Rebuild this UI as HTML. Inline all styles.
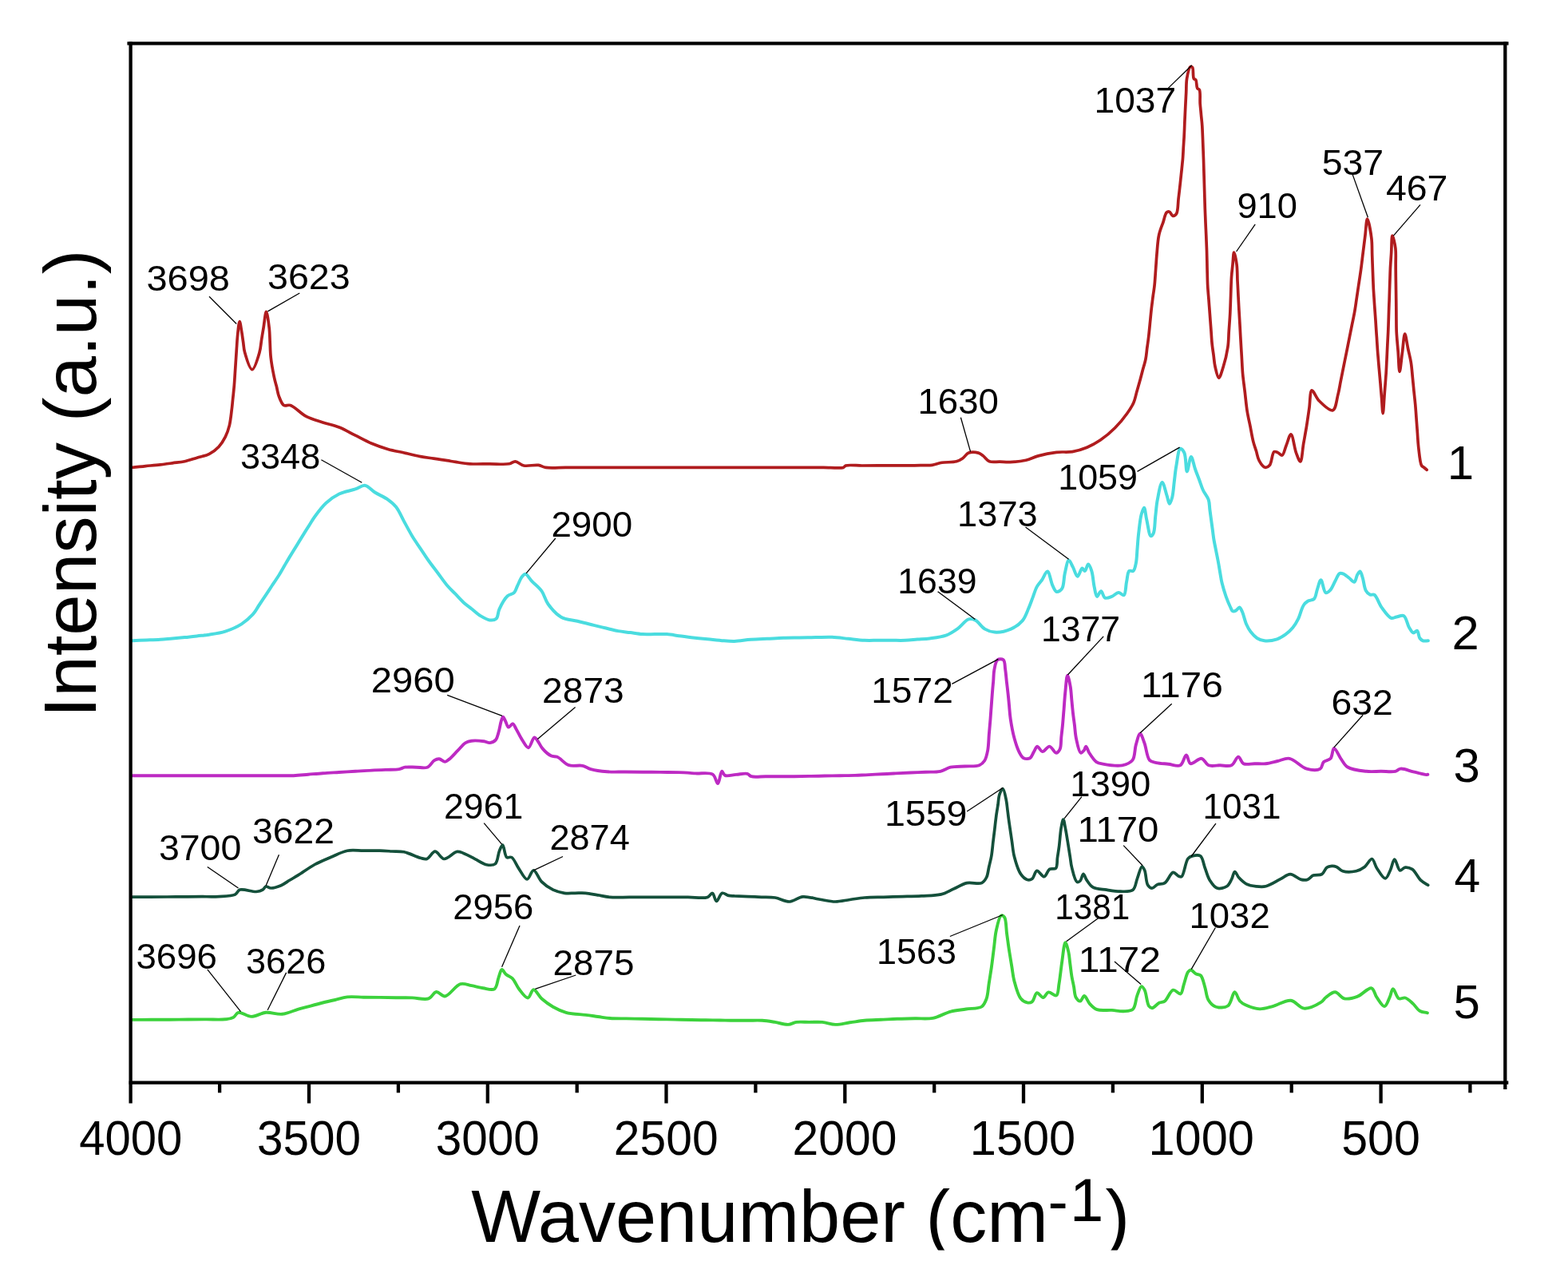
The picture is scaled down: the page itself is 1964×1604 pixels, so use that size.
<!DOCTYPE html>
<html><head><meta charset="utf-8"><title>FTIR spectra</title>
<style>html,body{margin:0;padding:0;background:#fff;}svg{display:block;}</style></head>
<body><svg width="1964" height="1604" viewBox="0 0 1964 1604">
<rect x="0" y="0" width="1964" height="1604" fill="#fff"/>
<path d="M164.1,585.5 C170.2,584.9 176.3,584.3 182.4,583.6 C188.5,583 194.9,582.5 200.7,581.8 C206,581.2 210.9,580.4 216,579.8 C221.1,579.1 226.2,578.8 231.3,577.7 C236.4,576.6 241.5,574.7 246.6,573.2 C251.6,571.6 257.2,570.9 261.8,568.6 C266.3,566.3 270.6,563 274,559.4 C277.4,555.9 280,551.6 282.2,547.2 C284.4,542.8 286,538.2 287.3,532.9 C288.8,526.8 289.5,518.9 290.3,512.6 C291,507.1 291.3,502.4 291.9,497.3 C292.4,492.2 293,487.1 293.4,482 C293.8,476.9 294.1,471.8 294.4,466.8 C294.7,461.7 295.1,456.6 295.4,451.5 C295.7,446.4 296.1,441.3 296.4,436.2 C296.8,431.1 296.9,426.2 297.5,420.9 C298.1,415.1 299.2,402.6 300.1,402.6 C300.9,402.6 301.9,410.6 302.6,414.8 C303.4,419.1 303.9,423.6 304.6,428.1 C305.3,432.5 305.2,436.5 306.6,441.3 C308.4,447.7 312.7,462.7 315.8,462.7 C318.9,462.7 323.1,447.9 325,441.3 C326.6,435.9 326.7,431.1 327.5,426 C328.3,420.9 329.1,416.2 330,410.7 C331.1,404.4 332.3,390.4 333.5,390.4 C334.7,390.4 336.4,404.1 337.2,410.7 C337.9,416.9 337.9,422.9 338.2,429 C338.5,435.2 338.5,440.9 339.2,447.4 C340,455 341.9,465.1 343.3,471.8 C344.3,476.6 345.3,480 346.4,484.1 C347.4,488.1 347.9,492.4 349.4,496.3 C350.9,500.2 352.7,505.8 355.5,507.5 C357.7,508.8 360.5,506.5 363.7,507.5 C369.2,509.2 377,518.1 384,521.7 C390.6,525.1 397.6,526.7 404.4,528.9 C411.2,531.1 418.1,532.3 424.8,535 C431.7,537.7 438.3,541.8 445.1,545.2 C451.9,548.6 458.6,552.4 465.5,555.3 C472.2,558.1 479,560.5 485.9,562.5 C492.6,564.4 499.5,565.5 506.2,567 C513,568.6 520.1,570.4 526.6,571.6 C532.4,572.7 537.7,573.3 543.3,574.2 C548.9,575 555.1,575.9 560,576.7 C563.9,577.3 566.6,577.8 570.6,578.4 C575.9,579.2 582.3,580.4 588.9,580.8 C596.4,581.3 605.2,580.8 613.3,580.8 C621.5,580.8 632,581.9 637.8,580.8 C641.1,580.2 642.7,577.7 645.4,577.8 C648.7,577.9 651.9,582.1 656.1,583 C661.3,584.1 669.4,581.7 674.4,582.4 C678,582.9 679.7,584.8 683.6,585.4 C689.8,586.4 700.2,585.4 708.4,585.4 C716.7,585.4 725,585.4 733.3,585.4 C741.6,585.4 749.9,585.4 758.1,585.4 C766.4,585.4 774.7,585.4 783,585.4 C791.3,585.4 799.6,585.4 807.8,585.4 C816.1,585.4 824.4,585.4 832.7,585.4 C841,585.4 849.2,585.4 857.5,585.4 C865.8,585.4 874.1,585.4 882.4,585.4 C890.7,585.4 898.9,585.4 907.2,585.4 C915.5,585.4 923.8,585.4 932.1,585.4 C940.3,585.4 948.6,585.4 956.9,585.4 C965.2,585.4 973.5,585.4 981.8,585.4 C990,585.4 998.3,585.4 1006.6,585.4 C1014.9,585.4 1023.2,585.4 1031.5,585.4 C1039.7,585.4 1052.1,586.8 1056.3,585.4 C1058,584.8 1057.8,583.6 1059.4,583 C1063.1,581.7 1072.8,583 1079.6,583 C1086.3,582.9 1093,582.9 1099.7,582.9 C1106.4,582.9 1113.1,582.9 1119.8,582.8 C1126.6,582.8 1133.9,582.9 1140,582.8 C1145,582.8 1149.2,582.7 1153.8,582.6 C1158.3,582.5 1163.1,583 1167.5,582.4 C1171.7,581.8 1175.2,580.1 1179.7,579.3 C1185.1,578.4 1193.3,579.1 1198,577.8 C1201.2,576.9 1203.3,575.7 1205.7,574 C1208.4,572.2 1210.2,568.3 1213.3,567.1 C1216.7,565.8 1222.2,566.2 1225.5,567.1 C1228,567.8 1229.5,569.3 1231.6,570.9 C1234.1,572.8 1236.1,576.5 1239.3,577.8 C1242.9,579.2 1247.9,578.1 1252.2,578.2 C1256.6,578.3 1260.4,578.8 1265.2,578.6 C1271.1,578.4 1279,577.7 1285.1,576.3 C1290.6,575 1294.7,572.5 1300.4,570.9 C1307.2,569 1315.9,567.2 1323.3,566.3 C1330.1,565.5 1336.7,566.6 1343.1,565.6 C1349.4,564.6 1355.6,562.6 1361.5,560.2 C1367.4,557.8 1372.8,554.9 1378.3,551.1 C1384.5,546.9 1391,541.4 1396.6,535.8 C1402.2,530.2 1407.8,523.3 1411.9,517.5 C1415.3,512.8 1418,508.5 1420,503.9 C1421.9,499.6 1422.5,495.2 1423.8,490.8 C1425,486.4 1426.3,482.1 1427.5,477.7 C1428.8,473.1 1430,468.4 1431.2,463.7 C1432.5,459 1434.1,454.4 1435,449.7 C1435.9,445.1 1436.2,440.3 1436.8,435.6 C1437.5,431 1438.1,426.6 1438.7,421.6 C1439.4,415.8 1440,409.1 1440.6,402.9 C1441.2,396.7 1441.8,390 1442.5,384.2 C1443.1,379.2 1443.7,374.8 1444.3,370.1 C1445,365.5 1445.7,361.1 1446.2,356.1 C1446.8,350.2 1447.1,343.4 1447.6,337.1 C1448.1,330.7 1448.4,324.7 1449,318 C1449.7,310.5 1450.1,301.1 1451.7,294 C1453,288.1 1455.2,283.2 1456.9,278.3 C1458.4,273.9 1459.3,267.7 1461.3,266 C1462.3,265.1 1463.7,264.8 1464.8,265.2 C1466.3,265.7 1467.5,270.1 1469.1,270.4 C1470.5,270.6 1472.4,269.5 1473.5,267.8 C1475.7,264.5 1475.3,255.3 1476.1,248.6 C1477,241.4 1478,232.4 1478.7,225.9 C1479.2,220.9 1479.6,217.2 1480.1,212.8 C1480.5,208.4 1481,204.1 1481.4,199.7 C1481.8,195.1 1482,190.4 1482.2,185.8 C1482.5,181.1 1482.8,176.8 1483.1,171.8 C1483.4,165.9 1483.7,159 1483.9,152.6 C1484.2,146.1 1484.5,139.6 1484.8,133.3 C1485.1,127.3 1485.4,121.7 1485.7,115.9 C1486,110 1485.7,103.9 1486.6,98.4 C1487.5,93.2 1489.1,84.6 1491,83.6 C1491.8,83.2 1492.9,83.6 1493.6,84.4 C1495.1,86.2 1493.9,96 1495.3,98.4 C1496,99.5 1497.2,99.1 1497.9,100.2 C1499.1,102.1 1498.5,108.7 1499.7,110.6 C1500.4,111.7 1501.7,111.2 1502.3,112.4 C1503.8,115.1 1502.8,124.3 1503.2,129.8 C1503.6,134.7 1504.1,139.1 1504.5,143.8 C1504.9,148.5 1505.5,152.7 1505.8,157.8 C1506.2,164.1 1506.4,171.8 1506.7,178.8 C1506.9,185.7 1507.3,192.8 1507.5,199.7 C1507.7,206.5 1507.9,213.3 1508.1,220.1 C1508.3,226.9 1508.5,233.6 1508.7,240.4 C1508.9,247.2 1509.1,254.3 1509.3,260.8 C1509.5,266.8 1509.8,272.4 1510,278.3 C1510.3,284.1 1510.5,289.9 1510.8,295.7 C1511,301.6 1511.3,307.1 1511.5,313.2 C1511.7,320 1511.9,327.5 1512,334.6 C1512.2,341.8 1512.3,349.2 1512.6,356.1 C1512.9,362.6 1513.5,368.6 1514,374.8 C1514.5,381 1514.9,387.3 1515.4,393.5 C1515.9,399.7 1516.3,406 1516.8,412.2 C1517.3,418.5 1517.6,425.2 1518.2,431 C1518.7,436 1519.5,440.3 1520.1,445 C1520.7,449.7 1520.9,454.4 1522,459 C1523.1,463.7 1524.9,473 1526.6,473.1 C1528.3,473.2 1530.6,464.4 1532.3,459 C1534.5,452.1 1536.7,442.5 1537.9,434.7 C1539,427.6 1538.8,421 1539.3,414.1 C1539.8,407.2 1540.3,400.6 1540.7,393.5 C1541.1,386 1541.3,377.9 1541.6,370.1 C1541.9,362.4 1542,353.8 1542.5,346.8 C1542.9,341.1 1543.5,336.5 1544,331.4 C1544.6,326.3 1544.8,316 1545.6,316 C1546.4,316 1548.4,326.2 1549.1,331.8 C1549.9,338 1549.7,344.9 1550,351.5 C1550.4,358 1550.7,364.8 1551,371.1 C1551.3,376.9 1551.6,382.3 1551.9,387.9 C1552.2,393.5 1552.6,399.2 1552.9,404.8 C1553.2,410.4 1553.5,415.5 1553.8,421.6 C1554.2,428.8 1554.7,437.2 1555.2,445 C1555.7,452.8 1555.9,460.6 1556.6,468.4 C1557.3,476.2 1558.5,484 1559.4,491.8 C1560.3,499.6 1561,507.9 1562.2,515.2 C1563.3,521.8 1564.7,527.7 1566,533.9 C1567.2,540.1 1568.3,547.1 1569.7,552.6 C1570.8,557.1 1572.2,560.7 1573.5,564.8 C1574.7,568.8 1575.2,573.4 1577.2,576.9 C1579,580.2 1582.1,584.8 1584.6,585.3 C1586.5,585.7 1588.7,584.3 1590.3,582.5 C1593,579.4 1593.3,567.2 1595.9,565.7 C1597.2,564.9 1599,566 1600.5,566.6 C1602.3,567.3 1604.4,570.5 1606,570 C1608.2,569.3 1609.2,562.2 1611,558 C1612.9,553.5 1615.1,543.8 1617,543.9 C1619.4,544.1 1621.2,561.2 1623.6,567.4 C1625.2,571.7 1627.4,578.1 1628.8,577.9 C1630.7,577.6 1631.4,563.1 1632.7,555.6 C1634,548.2 1635.4,540.8 1636.6,533.4 C1637.8,526 1638.8,518.6 1639.9,511.1 C1641,503.7 1640.7,489.5 1643.2,488.9 C1645.3,488.4 1648.4,498.1 1652.4,502 C1656.9,506.5 1665.5,515.1 1669.4,513.8 C1673.3,512.5 1674.2,500.5 1675.9,494.1 C1677.5,488.2 1678.2,482.5 1679.4,476.7 C1680.6,470.9 1681.7,465 1682.9,459.2 C1684.1,453.4 1685.2,447.6 1686.4,441.8 C1687.6,436 1688.7,430.2 1689.9,424.3 C1691.1,418.5 1692.2,412.7 1693.4,406.9 C1694.6,401 1695.9,395.2 1696.9,389.4 C1697.9,383.6 1698.6,377.8 1699.5,372 C1700.4,366.2 1701.2,360.3 1702.1,354.5 C1703,348.7 1703.9,343.2 1704.7,337.1 C1705.6,330.4 1706.4,323.1 1707.3,316.1 C1708.2,309.2 1709,302.2 1709.9,295.2 C1710.8,288.2 1711.4,274.3 1712.6,274.2 C1713.9,274.1 1716.8,290 1717.8,297.8 C1718.8,305.2 1718.4,312.3 1718.7,319.6 C1719,326.9 1719.2,334.1 1719.5,341.4 C1719.8,348.7 1720,356.1 1720.4,363.2 C1720.8,369.9 1721.3,376.3 1721.7,382.9 C1722.2,389.4 1722.6,395.9 1723.1,402.5 C1723.5,409.1 1723.9,415.6 1724.4,422.1 C1724.8,428.7 1725.2,435.3 1725.7,441.8 C1726.2,448.2 1726.8,454.5 1727.3,460.8 C1727.9,467.1 1728.4,473.4 1729,479.8 C1729.5,486.1 1730,492.4 1730.6,498.7 C1731.1,505.1 1731.6,517.7 1732.2,517.7 C1732.8,517.7 1733.5,501.1 1734.2,492.9 C1734.8,484.6 1735.6,475.6 1736.1,468 C1736.5,461.7 1736.7,456.4 1737,450.5 C1737.3,444.7 1737.5,438.9 1737.8,433.1 C1738.1,427.2 1738.4,421.6 1738.7,415.6 C1739,409.2 1739.2,402.5 1739.4,396 C1739.6,389.4 1739.8,382.9 1740.1,376.4 C1740.3,369.8 1740.5,363.3 1740.7,356.7 C1741,350.2 1741.1,343.7 1741.4,337.1 C1741.7,330.2 1742.3,323.1 1742.7,316.1 C1743.1,309.2 1743,295.3 1744,295.2 C1744.9,295.1 1747.2,305.2 1747.9,310.9 C1748.7,317.3 1748.1,324.9 1748.2,331.8 C1748.2,338.8 1748.3,345.8 1748.4,352.8 C1748.5,359.8 1748.6,366.7 1748.7,373.7 C1748.8,380.7 1748.9,387.7 1748.9,394.7 C1749,401.6 1748.9,408.3 1749.2,415.6 C1749.6,423.5 1750.5,432.2 1751.2,440.5 C1751.8,448.7 1752.2,465.3 1753.1,465.3 C1754,465.3 1755.3,449.6 1756.4,441.8 C1757.5,433.9 1758.4,418.2 1759.7,418.2 C1760.8,418.2 1762.3,430.4 1763.6,436.5 C1764.9,442.7 1766.6,448.8 1767.5,454.9 C1768.4,460.8 1768.7,466.5 1769.3,472.3 C1769.9,478.1 1770.4,484 1771,489.8 C1771.6,495.6 1772.3,501.4 1772.8,507.2 C1773.3,513 1773.7,518.8 1774.1,524.7 C1774.5,530.5 1775,536.3 1775.4,542.1 C1775.8,548 1776,553.4 1776.7,559.6 C1777.6,566.8 1778.5,579.6 1780.6,583 C1781.4,584.3 1782.3,584.2 1783.2,585 C1784.4,586 1785.9,587.3 1787.2,588.4" fill="none" stroke="#b01c1e" stroke-width="3.7" stroke-linejoin="round" stroke-linecap="round"/>
<path d="M166.1,802.2 C171.9,802 177.6,801.7 183.4,801.5 C189.2,801.3 195.1,801.2 200.7,800.8 C206,800.5 210.9,799.9 216,799.5 C221.1,799 226.2,798.6 231.3,798.1 C236.4,797.6 241.5,797 246.6,796.4 C251.6,795.8 256.4,795.5 261.8,794.7 C268.1,793.7 275.5,792.7 282.2,790.6 C289.1,788.4 296.6,785.2 302.6,781.4 C308,777.9 312.9,773.5 316.8,769.2 C320.2,765.4 322.2,761.1 325,757 C327.7,752.9 330.4,748.9 333.1,744.8 C335.8,740.7 338.5,736.6 341.2,732.5 C344,728.5 346.8,724.4 349.4,720.3 C351.9,716.3 354.2,712.2 356.5,708.1 C358.9,704 361.2,700 363.7,695.9 C366.3,691.6 369.1,687.1 371.9,682.6 C374.6,678.2 377.4,673.6 380,669.4 C382.4,665.5 384.7,661.9 387.1,658.2 C389.5,654.5 391.3,651 394.2,647 C398,641.7 403.2,634.5 408.5,629.7 C413.5,625.2 418.8,621.4 424.8,618.5 C431,615.5 439.2,614.4 445.1,612.4 C449.7,610.9 453.4,607.4 457.4,607.9 C461.6,608.5 465.2,613.7 469.6,616.5 C474.6,619.6 481.3,622.3 485.9,625.6 C489.9,628.5 493,630.9 496.1,634.8 C499.9,639.6 502.9,647 506.2,653.1 C509.6,659.3 512.9,665.7 516.4,671.5 C519.7,676.9 523.2,681.7 526.6,686.8 C530,691.8 533.2,696.9 536.8,702 C540.5,707.2 544.5,712.3 548.4,717.5 C552.3,722.7 556.1,728.4 560,733 C563.4,737 566.9,740.1 570.4,743.7 C573.8,747.3 577.2,751.2 580.7,754.4 C584,757.4 587.5,759.8 590.9,762.5 C594.3,765.3 597.4,768.4 601.1,770.7 C604.9,773 609.6,775.9 613.3,776.4 C616.2,776.8 619.5,776.6 621.5,774.8 C624,772.6 623.5,766.8 625.5,762.6 C627.9,757.4 632,749.7 635.7,746.3 C638.3,744 641.9,744.3 643.9,742.2 C645.9,740.2 646.4,737 647.9,734 C649.7,730.3 651.9,724.4 654.1,721.8 C655.4,720.3 656.6,718.7 658.1,718.8 C660.4,719 663.3,724.7 666.3,727.9 C669.9,731.7 675.1,735.5 678.5,740.2 C681.9,745 682.9,751.4 686.6,756.5 C690.8,762.3 696.6,769.2 702.9,772.7 C708.9,776.1 716.5,776.1 723.3,777.8 C730.1,779.5 737.4,781.4 743.7,782.9 C749.1,784.2 753.9,785.3 759,786.5 C764,787.7 769.1,789.2 774.2,790.1 C779.3,791 784.4,791.4 789.5,792.1 C794.6,792.8 799.7,793.8 804.8,794.1 C809.9,794.4 815,794.1 820,794.1 C825.1,794.1 830.2,793.8 835.3,794.1 C840.4,794.4 845.5,795.5 850.6,796.2 C855.7,796.8 860.4,797.6 865.9,798.2 C872.2,798.9 879.5,799.6 886.2,800.2 C893,800.9 900.5,801.9 906.6,802.3 C911.5,802.7 915.1,803 920,802.9 C926.1,802.7 933.6,801.3 940.4,800.8 C947.2,800.3 954,800.1 960.8,799.8 C967.5,799.5 974.3,799 981.1,798.8 C987.9,798.6 994.7,798.6 1001.5,798.5 C1008.3,798.4 1015,798.2 1021.8,798.1 C1028.6,798 1035.4,797.5 1042.2,797.8 C1049,798.1 1055.8,799.1 1062.6,799.8 C1069.3,800.5 1076.4,801.5 1082.9,801.8 C1088.8,802.1 1094.2,801.8 1099.9,801.8 C1105.5,801.8 1111.2,801.8 1116.8,801.8 C1122.5,801.8 1128.3,802 1133.8,801.8 C1139,801.6 1144,801 1149.1,800.6 C1154.2,800.2 1159,800.1 1164.4,799.4 C1170.7,798.6 1178.8,797.9 1184.8,795.7 C1190.1,793.8 1194.4,790.8 1199,787.6 C1203.9,784.1 1208.9,776.7 1213.3,775.4 C1216.2,774.5 1218.6,775.1 1221.4,776.4 C1225.3,778.2 1229.2,785 1233.6,787.6 C1237.5,789.9 1241.2,791.3 1245.9,791.6 C1251.8,792 1260.3,790.2 1266.2,787.6 C1271.7,785.2 1276.8,781.8 1280.5,777.4 C1284.3,773 1286.3,766.3 1288.6,761.1 C1290.6,756.5 1292,752.3 1293.7,747.9 C1295.4,743.4 1296.7,738.4 1298.8,734.6 C1300.6,731.4 1302.8,729.4 1304.9,726.5 C1307.2,723.2 1309.9,715.3 1312,715.5 C1314.5,715.8 1316.2,728.8 1318.5,733.4 C1320.1,736.6 1321.5,740.6 1323.6,741 C1325.5,741.4 1328.7,739.2 1330.3,736.8 C1332.8,733.1 1332.3,724.3 1333.7,718.3 C1335.1,712.5 1336.7,701.8 1338.7,701.5 C1340.2,701.3 1342.1,706.8 1343.8,709.9 C1345.8,713.5 1347.6,721.6 1349.6,721.7 C1351.5,721.8 1353.6,711.9 1355.5,711.6 C1356.7,711.4 1357.8,715.1 1358.9,714.9 C1360.4,714.6 1361.7,706.5 1363.1,706.5 C1364.5,706.5 1366.2,711.4 1367.3,714.9 C1369,720.1 1369.4,729.3 1370.7,735.1 C1371.7,739.6 1372.4,746.6 1374,746.9 C1375.3,747.2 1377.5,740.1 1379.1,740.2 C1380.9,740.3 1381.7,747.6 1384.1,748.6 C1386.3,749.6 1389.9,748 1392.6,746.9 C1395.5,745.8 1398.3,742 1401,741.9 C1403.3,741.8 1406.1,746 1407.7,745.2 C1410.2,744 1409.9,733.7 1411.1,728.4 C1412.2,723.6 1412.2,716.6 1414.4,714.9 C1415.7,713.9 1418.2,715.9 1419.5,714.9 C1421.4,713.5 1422.1,708.7 1422.9,704.8 C1424,699.6 1424,692.5 1424.6,686.3 C1425.1,680.1 1425.4,674.3 1426.2,667.8 C1427.1,660.4 1428,650 1429.6,644.2 C1430.6,640.6 1432,635.7 1433,635.8 C1434.3,635.9 1435,645.6 1436.3,651 C1437.8,657.3 1439.3,670.6 1441.4,671.2 C1442.4,671.5 1443.8,669.6 1444.7,667.8 C1446.6,663.9 1446.4,653.8 1447.2,646.8 C1448.1,639.7 1448.4,632.7 1449.8,625.7 C1451.2,618.4 1453.6,604 1455.7,603.9 C1457.6,603.8 1459.9,615.8 1461.6,620.7 C1462.9,624.5 1463.7,630.8 1464.9,630.8 C1466,630.8 1467.4,625.8 1468.3,622.4 C1469.6,617.3 1470,609.5 1470.8,603 C1471.6,596.6 1472.1,590.3 1473.3,583.7 C1474.6,576.6 1475.9,562.5 1478.4,561.8 C1479.8,561.4 1482.1,564.4 1483.4,567 C1485.7,571.8 1485.3,590.3 1486.8,590.4 C1488.2,590.5 1490.1,571.9 1491.9,571.9 C1493.5,571.9 1495.2,582.1 1496.9,587 C1498.5,591.6 1500.3,596 1502,600.5 C1503.7,605 1505,609.7 1507,614 C1508.9,618.1 1512.3,621.6 1513.7,625.7 C1515.1,629.7 1514.8,634.1 1515.4,638.4 C1516,642.6 1516.5,646.8 1517.1,651 C1517.7,655.2 1518.2,659.4 1518.8,663.6 C1519.4,667.8 1519.8,672 1520.5,676.2 C1521.2,680.4 1522.2,684.6 1523,688.9 C1523.8,693.1 1524.7,697.2 1525.5,701.5 C1526.4,706.1 1527.2,711 1528,715.8 C1528.9,720.6 1529.4,725.2 1530.6,730.1 C1531.9,735.5 1533.8,741.7 1535.6,746.9 C1537.3,751.6 1539.4,756.7 1541,760 C1542.1,762.2 1542.7,764.6 1544,765.2 C1545.1,765.7 1546.6,765.2 1547.9,764.6 C1549.5,763.9 1551.3,760.4 1552.6,760.6 C1553.9,760.8 1554.8,763.6 1555.9,765.9 C1557.7,769.7 1559.2,777.3 1561.2,781.8 C1562.8,785.4 1564.3,788.3 1566.5,791.1 C1568.7,794 1571.4,797.1 1574.4,799 C1577.2,800.8 1580.1,801.9 1583.7,802.3 C1588.2,802.8 1595,801.8 1599.6,800.3 C1603.6,799 1606.9,796.8 1610.2,794.4 C1613.5,792 1616.8,789 1619.4,785.8 C1622,782.6 1624,779.3 1626,775.2 C1628.5,770.3 1630.1,761.9 1632.7,758 C1634.3,755.5 1635.9,754 1638,752.7 C1640.2,751.3 1644,751.9 1645.9,750 C1648.3,747.6 1648.5,742.1 1649.9,738.1 C1651.3,734.1 1652.9,726.2 1654.5,726.2 C1656.4,726.2 1657.9,741.1 1660.5,742.1 C1662,742.7 1664.2,741 1665.8,739.4 C1668.3,737 1670.3,731.2 1672.4,727.5 C1674.3,724.2 1675.7,719.4 1677.7,718.2 C1678.9,717.5 1680.1,717.8 1681.6,718.2 C1683.9,718.9 1687.1,721.7 1689.6,723.5 C1691.9,725.2 1694.5,729.2 1696.2,728.8 C1698.1,728.3 1698.8,722 1700.2,719.6 C1701.2,717.9 1702.5,715.5 1703.5,715.6 C1704.8,715.8 1705.8,720.4 1706.8,723.5 C1708.2,727.8 1708.7,735.7 1710.8,739.4 C1712.2,741.9 1714.2,743.9 1716.1,744.7 C1717.7,745.4 1719.7,743.7 1721.4,744.7 C1724.6,746.6 1727,755.7 1730.6,760.6 C1734.1,765.4 1738.8,772.5 1742.5,773.8 C1744.8,774.6 1746.8,772.9 1749.2,772.5 C1752,772 1755.9,769.8 1758.4,771.2 C1761.6,773 1762.7,782 1765,785.8 C1766.7,788.6 1768.4,792 1770.3,792.4 C1771.8,792.7 1773.8,789.2 1775,789.7 C1776.7,790.3 1776.8,796.8 1778.3,799 C1779.4,800.6 1780.7,801.7 1782.3,802.3 C1784.1,803 1786.7,802.3 1788.9,802.3" fill="none" stroke="#4adcdf" stroke-width="4.0" stroke-linejoin="round" stroke-linecap="round"/>
<path d="M166.1,971.2 C173.6,971.2 181,971.2 188.5,971.2 C196,971.2 203.5,971.2 210.9,971.2 C218.4,971.2 225.9,971.2 233.3,971.2 C240.8,971.2 248.3,971.2 255.7,971.2 C263.2,971.2 270.7,971.2 278.2,971.2 C285.6,971.2 293.1,971.2 300.6,971.2 C308,971.2 315.5,971.2 323,971.2 C330.4,971.2 337.9,971.2 345.4,971.2 C352.9,971.2 360.7,971.5 367.8,971.2 C374.2,970.9 380,970.2 386.1,969.7 C392.2,969.2 398.1,968.6 404.4,968.2 C411,967.7 418,967.4 424.8,967 C431.6,966.6 438.3,966.2 445.1,965.8 C451.9,965.4 459,964.9 465.5,964.6 C471.5,964.3 477,964.1 482.8,963.9 C488.5,963.6 495.5,963.9 500,963.1 C503,962.6 504.4,961.2 507.3,960.7 C511.2,960.1 516.7,960.7 521.4,960.7 C526,960.7 531.5,962.3 535.4,960.7 C539,959.2 541.2,953.8 544,952.1 C546,950.9 548,950.1 550.1,950.3 C552.5,950.5 555.2,954 557.4,953.9 C559.2,953.8 560.4,952.4 562.3,950.9 C565.4,948.5 569.7,943.5 573.3,939.9 C576.7,936.5 579.8,932.1 583.1,930.1 C585.5,928.6 587.5,928.1 590.4,927.7 C594.6,927.1 602,927.7 606.3,928.3 C609.2,928.7 611.2,930.4 613.6,930.1 C616.1,929.8 619.2,928.4 621,926.4 C623,924.1 623.5,920.2 624.6,916.7 C625.8,912.6 626.6,906.7 627.7,903.2 C628.5,900.9 629.2,897.7 630.1,897.7 C631,897.7 632.1,901.2 633.2,903.2 C634.4,905.5 635.3,910.2 636.9,910.6 C638.4,910.9 640.8,906 642.4,906.3 C644.1,906.6 645,910.4 646.6,913 C648.8,916.7 651.3,922.4 654,926.4 C656.4,930 659.4,936.4 661.9,936.2 C664.6,936 667,923.7 669.3,923.4 C670.8,923.2 672.1,925.9 673.5,927.7 C675.5,930.2 677,934.4 679.6,937.4 C682.5,940.8 687.1,945 690.6,946.6 C693.1,947.8 695.3,946.7 698,947.8 C702.2,949.5 707.2,956.4 712.6,958.2 C717.8,960 724.8,957.7 729.7,958.8 C733.7,959.7 735.9,961.9 740,963.1 C745.6,964.7 753.4,965.7 760.4,966.3 C767.6,966.9 775.2,966.4 782.7,966.5 C790.1,966.6 797.5,966.6 805,966.7 C812.4,966.8 819.8,966.8 827.2,966.9 C834.6,967 842.1,966.9 849.5,967.1 C856.8,967.3 863.9,967.9 871.1,968.4 C878.3,968.8 888,966.7 892.7,969.6 C896.4,971.9 897.3,981.3 899.1,981.1 C901.1,980.9 902.3,966.1 904.2,965.8 C905.4,965.6 906,970 908,970.9 C911,972.3 917.3,970.2 922,969.9 C926.7,969.6 932.6,968 936,968.9 C938.2,969.5 938.7,971.5 941.1,972.2 C945.1,973.4 953,972.2 958.9,972.2 C964.9,972.2 970.8,972.2 976.8,972.2 C982.7,972.2 988.6,972.3 994.6,972.2 C1000.9,972.1 1007.3,972 1013.7,971.9 C1020.1,971.8 1026.4,971.7 1032.8,971.5 C1039.2,971.4 1045.5,971.3 1051.9,971.2 C1058.3,971.1 1064.8,971.1 1071,970.9 C1076.8,970.7 1082.3,970.3 1088,970.1 C1093.6,969.8 1099.3,969.5 1104.9,969.2 C1110.6,969 1116.1,968.7 1121.9,968.4 C1128,968.1 1134.3,967.8 1140.6,967.5 C1146.8,967.2 1153,967 1159.2,966.7 C1165.5,966.4 1172.4,967 1177.9,965.8 C1182.6,964.8 1185.9,961.8 1190.6,960.7 C1196,959.5 1202.6,959.9 1208.6,959.5 C1214.6,959 1222.3,960 1226.6,958.2 C1229.6,957 1231.5,955.1 1233.2,952.5 C1235.3,949.3 1236.3,944.3 1237.2,939.5 C1238.3,933.7 1238.3,926.4 1238.8,919.9 C1239.4,913.4 1240,906.5 1240.5,900.3 C1240.9,894.6 1241.3,889.5 1241.7,884 C1242.1,878.6 1242.5,873.1 1242.9,867.8 C1243.3,862.8 1243.7,858 1244.2,853.1 C1244.6,848.2 1244.5,843 1245.4,838.4 C1246.3,834.1 1247,828 1249.4,826.2 C1251.2,824.9 1255.1,824.8 1256.8,826.2 C1259,828 1258.5,834.1 1259.2,838.4 C1259.9,843.1 1260.3,848.2 1260.8,853.1 C1261.4,858 1262,862.8 1262.5,867.8 C1263.1,873.1 1263.6,878.6 1264.1,884 C1264.6,889.5 1264.8,894.4 1265.7,900.3 C1266.8,907.7 1268.5,917.3 1270.6,924.8 C1272.4,931.3 1274.7,938.3 1277.1,942.7 C1278.6,945.6 1279.8,948.1 1282,949.2 C1284.2,950.3 1288.1,950.4 1290.2,949.2 C1292.5,947.9 1293.5,943.6 1295.1,941.1 C1296.5,938.8 1297.5,934.8 1299.1,934.6 C1300.9,934.4 1303.3,940.9 1305.7,941.1 C1308.4,941.3 1311.8,934.4 1314.6,934.6 C1317.5,934.8 1320.4,942.7 1322.8,942.7 C1324.6,942.7 1326.6,940.1 1327.7,937.8 C1329.3,934.4 1328.8,928 1329.3,923.1 C1329.8,918.3 1330.4,913.8 1330.9,908.5 C1331.5,902.3 1332,894.9 1332.6,888.1 C1333.1,881.4 1333.5,874.7 1334.2,867.8 C1335,860.6 1335.8,845.9 1337.1,845.8 C1338.1,845.7 1339.8,854.8 1340.7,859.6 C1341.6,864.8 1341.8,870.5 1342.3,875.9 C1342.8,881.3 1343.3,886.8 1343.9,892.2 C1344.5,897.6 1345.3,903.1 1346,908.5 C1346.6,913.9 1346.8,919.3 1348,924.8 C1349.3,930.7 1351.3,942 1353.7,942.7 C1354.9,943.1 1356.7,940.8 1357.8,939.5 C1358.9,938.1 1359.3,934.6 1360.2,934.6 C1361.4,934.6 1362.5,939.9 1364.3,942.7 C1366.6,946.3 1370,951.8 1373.3,954.1 C1375.8,955.8 1377.9,956 1381.4,956.6 C1387.3,957.7 1399,959.6 1405.7,958.3 C1410.8,957.3 1415.6,955.6 1418.5,951.9 C1421.9,947.6 1421,938.5 1422.8,932.7 C1424.3,927.6 1426.2,918.9 1428.1,918.8 C1429.8,918.7 1431.8,925.9 1433.5,930.5 C1435.8,936.5 1436.4,948.1 1439.9,951.9 C1442.2,954.3 1445.1,954.3 1448.4,955.1 C1452.6,956.1 1458.4,956.2 1463.4,956.7 C1468.4,957.2 1474.6,960.2 1478.4,958.3 C1482.1,956.4 1483.7,945.4 1485.9,945.5 C1487.9,945.6 1488.3,955.2 1491.2,956.2 C1494.4,957.3 1501.2,949.1 1505.1,949.8 C1508.6,950.4 1510.1,956.8 1513.7,958.3 C1517.6,959.9 1523.3,958.3 1528.1,958.3 C1532.9,958.3 1538.6,960.1 1542.5,958.3 C1546.3,956.5 1548.5,947.6 1551.1,947.6 C1553.4,947.6 1554.5,954.7 1557.5,956.2 C1561,957.9 1566.8,956.2 1571.4,956.2 C1576,956.2 1580.6,956.7 1585.3,956.2 C1590.2,955.7 1595.3,954.1 1600.2,953 C1605.2,951.9 1610,948.9 1615.2,949.8 C1621.9,950.9 1629.6,960.7 1636.6,962.6 C1642.4,964.2 1650.2,964.8 1653.7,962.6 C1656.4,961 1655.8,956.1 1658,954 C1660.1,951.9 1664.5,952.2 1666.6,949.8 C1669.1,946.9 1668.9,937.2 1670.9,936.9 C1673.1,936.6 1676.5,945.8 1679.4,949.8 C1682.2,953.6 1683.8,957.9 1688,960.5 C1693.5,964 1704.1,965 1711.5,965.8 C1717.9,966.5 1723.6,965.8 1729.7,965.8 C1735.7,965.8 1743.4,966.8 1747.8,965.8 C1750.6,965.1 1751.6,962.9 1754.3,962.6 C1758.4,962.1 1765,965.1 1770.3,966.4 C1775.6,967.6 1783.5,970 1786.3,970.1 C1787.3,970.1 1787.7,969.9 1788.4,969.8" fill="none" stroke="#bd2ac3" stroke-width="3.9" stroke-linejoin="round" stroke-linecap="round"/>
<path d="M166.1,1123.2 C173.3,1123.2 180.5,1123.1 187.7,1123.1 C194.9,1123 202.1,1123 209.3,1123 C216.5,1122.9 223.7,1122.9 230.9,1122.8 C238.1,1122.8 245.3,1122.8 252.5,1122.7 C259.7,1122.7 267,1123 274.1,1122.6 C281,1122.2 289.8,1122.4 294.4,1120.2 C297.4,1118.8 297.5,1115.1 300.5,1114.1 C305.1,1112.5 315.7,1116.9 320.9,1116.5 C324.2,1116.2 326.9,1115.4 329,1114.1 C330.8,1113.1 331.5,1110.4 333.1,1110 C334.8,1109.6 336.8,1111.9 339.2,1112 C342.6,1112.1 347.5,1110.6 351.4,1109 C355.3,1107.4 358.9,1104.6 362.6,1102.3 C366.3,1100.1 369.5,1098.3 373.8,1095.7 C379.6,1092.1 387.3,1086.3 394.2,1082.5 C400.9,1078.9 407.8,1076.2 414.6,1073.3 C421.4,1070.4 428.1,1066.5 435,1065.2 C441.7,1063.9 448.6,1065.2 455.4,1065.2 C462.1,1065.2 469.4,1065 475.7,1065.2 C481.2,1065.3 485.9,1065.7 490.9,1066 C496,1066.3 500.8,1065.7 506.2,1066.8 C512.6,1068.1 521.3,1073 526.6,1074.3 C529.9,1075.1 532,1076.2 534.7,1075.4 C538.2,1074.3 541.4,1066.3 544.9,1066.2 C548.6,1066.1 552,1075.1 556.3,1075.5 C561.1,1075.9 568,1067 572.6,1066.4 C575.7,1066 577.7,1067.3 580.7,1068.4 C584.9,1069.9 590.2,1073.2 595,1075.6 C599.7,1077.9 604.6,1081.8 609.2,1082.7 C613.1,1083.4 617.7,1083.8 620.4,1081.6 C623.7,1078.9 623.6,1069.6 625.5,1065.4 C626.8,1062.4 628.3,1058.1 629.6,1058.2 C631.4,1058.4 632,1071.6 634.7,1073.5 C636.4,1074.7 638.8,1072.4 640.8,1073.5 C644.1,1075.3 646.7,1083.2 650,1087.8 C653.2,1092.4 657,1101.1 660.2,1101 C663.1,1101 665.5,1089.8 668.3,1089.8 C671.5,1089.8 674.4,1100 678.5,1104.1 C682.6,1108.2 687.7,1111.8 692.7,1114.2 C697.3,1116.4 702.3,1117.6 707,1118.3 C711.5,1118.9 715.8,1118.3 720.2,1118.3 C724.7,1118.3 728.9,1117.9 733.5,1118.3 C738.4,1118.7 743.7,1120 748.8,1120.8 C753.8,1121.7 758.3,1122.9 764,1123.4 C771.2,1124 780.3,1123.4 788.4,1123.4 C796.6,1123.4 804.7,1123.4 812.9,1123.4 C821,1123.4 829.2,1123.4 837.3,1123.4 C845.5,1123.4 853.6,1123.4 861.8,1123.4 C869.9,1123.4 881,1125.3 886.2,1123.4 C889.2,1122.3 890.5,1117.9 892.3,1118.3 C894.4,1118.7 895.4,1128.3 897.4,1128.5 C899.5,1128.7 901.7,1119.2 904.6,1118.3 C907,1117.6 910,1120.8 912.7,1121.4 C915.2,1121.9 917.1,1121.7 920,1121.9 C924.5,1122.1 931.3,1122.4 937,1122.6 C942.6,1122.8 948.3,1123.1 953.9,1123.3 C959.6,1123.5 965.2,1123.1 970.9,1124 C976.9,1124.9 983.3,1129.3 989.2,1129 C994.8,1128.7 999.7,1123.5 1005.5,1122.9 C1011.8,1122.2 1019.1,1125 1025.9,1126 C1032.7,1127 1039.7,1129 1046.3,1129 C1052.6,1129 1058.5,1127.3 1064.6,1126.5 C1070.7,1125.7 1076.4,1124.5 1082.9,1124 C1090.3,1123.4 1098.7,1123.5 1106.7,1123.3 C1114.6,1123.1 1122.5,1122.8 1130.4,1122.6 C1138.4,1122.4 1146.2,1122.3 1154.2,1121.9 C1162.3,1121.4 1171.5,1121.7 1178.7,1119.9 C1184.8,1118.4 1189.5,1115.1 1195,1112.8 C1200.4,1110.4 1205.5,1106.8 1211.2,1105.6 C1217,1104.4 1225.4,1107.5 1229.6,1105.6 C1232.6,1104.2 1234.2,1101.5 1235.7,1098.5 C1237.5,1094.9 1237.7,1089.7 1238.8,1085.2 C1239.8,1080.8 1241,1076.7 1241.8,1072 C1242.7,1066.7 1243.2,1060.7 1243.8,1055 C1244.5,1049.4 1245.2,1043.7 1245.9,1038.1 C1246.5,1032.4 1247.2,1026.4 1247.9,1021.1 C1248.5,1016.4 1249.3,1012.3 1250,1007.9 C1250.6,1003.4 1250.7,998.2 1252,994.6 C1253,991.8 1254.9,987.4 1256.1,987.5 C1257.7,987.7 1259.1,996.1 1260.1,1000.7 C1261.2,1005.6 1261.5,1010.9 1262.2,1016 C1262.8,1021.1 1263.4,1025.8 1264.2,1031.3 C1265.1,1037.6 1266.2,1044.9 1267.2,1051.7 C1268.3,1058.4 1268.6,1065.1 1270.3,1072 C1272.2,1079.4 1275,1089.3 1278.5,1094.4 C1280.9,1097.8 1283.9,1100.7 1286.6,1101.5 C1288.6,1102.1 1290.9,1101.7 1292.7,1100.5 C1295.2,1098.8 1296.3,1090.7 1298.8,1090.3 C1301.3,1089.9 1305.3,1098.1 1307.9,1097.7 C1310.5,1097.4 1311.9,1090.1 1314.6,1088.4 C1316.9,1087 1320.8,1088.8 1322.5,1087.1 C1324.7,1084.9 1323.8,1078.3 1324.5,1073.8 C1325.2,1069.4 1325.8,1065.7 1326.5,1060.6 C1327.4,1053.8 1328,1043.1 1329.1,1036.8 C1329.9,1032.5 1330.9,1026.2 1331.8,1026.2 C1332.7,1026.2 1333.5,1032.5 1334.4,1036.8 C1335.7,1043.1 1337.3,1053.9 1338.4,1060.6 C1339.2,1065.5 1339.7,1069 1340.4,1073.2 C1341.1,1077.4 1341.2,1081.3 1342.4,1085.8 C1343.8,1091.4 1346.3,1103 1349,1104.3 C1350.2,1104.9 1351.9,1104 1353,1103 C1354.7,1101.5 1355.5,1094.5 1356.9,1094.4 C1358.2,1094.3 1359.2,1099.1 1360.9,1101.6 C1363,1104.6 1365.2,1108.8 1368.8,1110.9 C1373.1,1113.4 1380.2,1113.3 1386,1114.2 C1391.7,1115.1 1397.7,1116.2 1403.3,1116.2 C1408.7,1116.2 1415.6,1117 1419.1,1114.2 C1422.5,1111.5 1422.6,1105 1424.4,1100.3 C1426.3,1095.3 1428.5,1085.3 1430.4,1085.1 C1431.5,1085 1432.7,1087.5 1433.7,1089.7 C1435.5,1093.7 1435.3,1104.6 1437.7,1108.3 C1439.1,1110.5 1441.1,1112.2 1443,1112.2 C1445.1,1112.2 1447.1,1108.7 1449.6,1107.6 C1452.3,1106.4 1456,1107.4 1458.9,1105.6 C1462.8,1103.2 1466.1,1092.9 1469.4,1092.4 C1471.7,1092.1 1474.1,1096.2 1476.1,1097 C1477.5,1097.6 1478.8,1098.4 1480,1097.7 C1483,1095.9 1484.8,1079.2 1488,1075.2 C1489.6,1073.2 1491.1,1072.5 1493.3,1071.9 C1496.1,1071.1 1500.9,1070.1 1503.5,1071.8 C1506.7,1074 1507.3,1081.5 1509.2,1086.5 C1511.2,1091.6 1512.5,1097.8 1515.3,1102.2 C1517.8,1106.1 1520.7,1110.9 1524.4,1112.1 C1527.9,1113.3 1533.6,1111.8 1536.7,1109.8 C1539.6,1107.9 1541.1,1103.8 1542.8,1100.7 C1544.4,1097.7 1545,1091.7 1546.6,1091.5 C1548.1,1091.3 1549.7,1096.7 1551.9,1099.1 C1554.4,1101.8 1557.6,1105 1561.1,1106.8 C1564.7,1108.6 1569.2,1109.3 1573.3,1109.8 C1577.3,1110.3 1581.1,1110.8 1585.5,1109.8 C1591.1,1108.5 1598.4,1103.4 1603.9,1100.7 C1608.4,1098.5 1611.9,1094.6 1616.1,1094.6 C1620.5,1094.6 1625.8,1100.5 1629.8,1101.4 C1632.6,1102.1 1635.1,1102.2 1637.5,1101.4 C1640.2,1100.6 1642.2,1097.2 1645.1,1096.1 C1648.2,1094.9 1653,1096.3 1655.8,1094.6 C1658.6,1092.9 1659.7,1087.8 1661.9,1086.2 C1663.4,1085.1 1664.7,1084.8 1666.5,1084.6 C1668.7,1084.3 1671.7,1084.5 1674.1,1085.4 C1676.8,1086.4 1678.5,1089.7 1681.8,1090.7 C1686.2,1092.1 1693.7,1091.8 1698.6,1090.7 C1702.7,1089.7 1706.1,1087.8 1709.3,1085.4 C1712.7,1082.8 1715.9,1075.2 1718.4,1075.5 C1720.9,1075.8 1722,1083.1 1724.5,1086.9 C1727.4,1091.2 1732.2,1100.1 1735.2,1099.9 C1737.7,1099.7 1739.5,1093.7 1741.3,1090 C1743.4,1085.9 1744.7,1076.3 1746.7,1076.2 C1748.8,1076.1 1750.9,1089.2 1753.6,1090 C1755.4,1090.5 1757.4,1086.6 1759.7,1086.2 C1762.4,1085.8 1765.9,1086.6 1768.8,1088.4 C1772.7,1090.9 1775.8,1098.7 1779.5,1102.2 C1782.5,1105 1785.6,1106.3 1788.7,1108.3" fill="none" stroke="#14503b" stroke-width="3.7" stroke-linejoin="round" stroke-linecap="round"/>
<path d="M166.1,1276.9 C173.8,1276.9 181.6,1276.8 189.3,1276.8 C197.1,1276.7 204.8,1276.7 212.5,1276.7 C220.3,1276.6 228,1276.6 235.8,1276.5 C243.5,1276.5 251.2,1276.5 259,1276.4 C266.7,1276.4 276.1,1277 282.2,1276.3 C286.3,1275.8 289.6,1275.5 292.4,1273.9 C294.9,1272.5 295.7,1268.5 298.5,1267.8 C302.4,1266.8 309.2,1272.8 314.8,1272.9 C320.7,1273 326.8,1268.4 333.1,1267.8 C339.7,1267.2 346.8,1270.5 353.5,1269.8 C360.3,1269.1 367.5,1265.5 373.8,1263.7 C379.2,1262.2 384,1261 389.1,1259.6 C394.2,1258.2 399.3,1256.8 404.4,1255.5 C409.5,1254.2 414.6,1253.1 419.7,1252 C424.8,1250.8 429.5,1249 435,1248.4 C441.3,1247.7 448.6,1248.6 455.4,1248.7 C462.1,1248.7 468.9,1248.8 475.7,1248.9 C482.5,1249 489.3,1249.1 496,1249.2 C502.8,1249.2 509.6,1249.2 516.4,1249.4 C523.2,1249.6 531.5,1252.2 536.8,1250.4 C541,1249 543,1242.4 546.5,1242 C549.9,1241.6 553.3,1247.9 557.3,1247.5 C563,1246.9 570.4,1233.9 576.7,1232.2 C581.5,1230.9 586.2,1233.4 590.9,1234.2 C595.7,1235.1 600.4,1236.6 605.2,1237.3 C609.9,1238 616.2,1240.4 619.4,1238.3 C622.7,1236.1 622.9,1228.4 624.5,1224.1 C625.9,1220.4 626.9,1214.2 628.6,1213.9 C630.1,1213.7 631.6,1218.2 633.7,1220 C636,1222 639.3,1222.6 641.8,1225.1 C644.9,1228.2 646.8,1234.2 650,1238.3 C653.2,1242.4 658,1249.8 661.2,1249.5 C664,1249.3 665.6,1239.5 668.3,1239.3 C671.3,1239.1 674.6,1247 678.5,1250.5 C682.7,1254.2 687.6,1257.8 692.7,1260.7 C697.8,1263.6 702.9,1266.1 709,1267.8 C716.2,1269.8 726.3,1270 733.5,1270.9 C739.2,1271.6 743.7,1272.3 748.8,1273 C753.8,1273.6 758.5,1274.6 764,1275 C770.3,1275.5 777.6,1275.3 784.4,1275.4 C791.2,1275.5 798,1275.7 804.8,1275.8 C811.6,1275.9 818.3,1276.1 825.1,1276.2 C831.9,1276.3 838.7,1276.5 845.5,1276.6 C852.3,1276.7 859.3,1276.9 865.9,1277 C872.1,1277.1 877.9,1277.2 883.9,1277.3 C889.9,1277.4 896,1277.4 902,1277.5 C908,1277.6 914.1,1277.8 920,1277.8 C925.8,1277.8 931.5,1277.8 937.3,1277.8 C943.1,1277.8 948.9,1277.4 954.6,1277.8 C960.1,1278.2 965.5,1279.1 970.9,1279.9 C976.3,1280.8 982.4,1283.1 987.2,1282.9 C991,1282.7 993.6,1280.5 997.4,1279.9 C1002.2,1279.2 1008.3,1279.9 1013.7,1279.9 C1019.1,1279.9 1024.6,1279.4 1030,1279.9 C1035.5,1280.4 1040.7,1282.8 1046.3,1282.9 C1052.2,1283 1058.5,1281.2 1064.6,1280.3 C1070.7,1279.5 1076.6,1278.4 1082.9,1277.8 C1089.5,1277.2 1096.5,1277.1 1103.3,1276.8 C1110.1,1276.5 1116.7,1276 1123.7,1275.8 C1131,1275.5 1138.6,1275.5 1146.1,1275.3 C1153.6,1275.1 1161.1,1276.2 1168.5,1274.8 C1176.1,1273.4 1183.6,1268.5 1190.9,1266.6 C1197.5,1264.9 1203.8,1264.6 1210.2,1263.5 C1216.7,1262.5 1225.3,1263.4 1229.6,1260.5 C1232.9,1258.2 1234.2,1254.4 1235.7,1250.3 C1237.6,1245 1237.7,1237.4 1238.8,1230.9 C1239.8,1224.5 1240.8,1218.4 1241.8,1211.6 C1242.9,1204.2 1243.8,1196 1244.8,1188.2 C1245.9,1180.4 1246.2,1172 1247.9,1164.8 C1249.4,1158.2 1251.4,1147.6 1254,1146.5 C1255.2,1146 1257,1147 1258.1,1148.5 C1260.5,1151.7 1260.1,1162.8 1261.2,1169.9 C1262.2,1177 1263.1,1184.5 1264.2,1191.3 C1265.2,1197.6 1266.2,1203.5 1267.2,1209.6 C1268.3,1215.7 1268.6,1221.6 1270.3,1227.9 C1272.2,1235.1 1274.8,1245.8 1278.5,1250.3 C1280.8,1253.2 1284,1254.9 1286.6,1255.4 C1288.7,1255.8 1290.9,1255.7 1292.7,1254.4 C1295.3,1252.6 1296.3,1243.8 1298.8,1243.2 C1301,1242.7 1304.2,1249.2 1306.6,1249 C1309,1248.8 1310.6,1242.9 1313.2,1242.4 C1316,1241.8 1321,1247.6 1323.2,1246.4 C1325.8,1245 1325.6,1236.7 1326.5,1231.8 C1327.4,1227 1327.8,1222.1 1328.5,1217.2 C1329.1,1212.4 1329.6,1208.1 1330.4,1202.7 C1331.4,1196 1332.8,1180.3 1334.4,1180.2 C1335.6,1180.1 1337.4,1187.8 1338.4,1192.1 C1339.5,1196.8 1339.7,1202.2 1340.4,1207.3 C1341.1,1212.4 1341.6,1217.6 1342.4,1222.5 C1343.2,1227.1 1344.2,1231.3 1345.1,1235.8 C1345.9,1240.2 1345.9,1245.9 1347.7,1249 C1349,1251.2 1351.3,1253.8 1353,1253.6 C1354.8,1253.4 1356.4,1246.9 1358.2,1247 C1360.3,1247.1 1362.2,1254 1364.9,1256.9 C1367.5,1259.8 1370.2,1262.8 1374.1,1264.2 C1379,1266 1386.9,1264.5 1392.7,1264.9 C1397.8,1265.2 1402.6,1266.5 1407.2,1266.2 C1411.4,1265.9 1416.3,1266.2 1419.1,1263.6 C1422.5,1260.4 1422.4,1251.5 1424.4,1246.4 C1426,1242.2 1427.9,1235.4 1429.7,1235.1 C1431,1234.9 1432.5,1237.4 1433.7,1239.7 C1435.9,1243.9 1436.6,1256.2 1439,1259.6 C1440.2,1261.2 1441.4,1262.2 1443,1262.2 C1445.5,1262.1 1449.3,1257 1452.2,1255.6 C1454.5,1254.5 1456.7,1255.1 1458.9,1253.6 C1462.4,1251.2 1465.6,1240.6 1469.4,1239.7 C1472.3,1239 1476.5,1245.3 1478.7,1244.4 C1481.1,1243.5 1481.3,1237.2 1482.7,1233.1 C1484.4,1228.3 1485.9,1220.2 1488,1217.2 C1489.1,1215.7 1490.1,1214.5 1491.5,1214.5 C1493.4,1214.5 1495.9,1218.4 1498.2,1219.6 C1500.1,1220.6 1502.4,1219.9 1504,1221.5 C1506.5,1224 1507.6,1230.8 1509.2,1235.8 C1510.8,1241 1511,1247.7 1513.5,1252 C1515.7,1255.7 1518.7,1259.1 1522.4,1260.5 C1526.6,1262 1534.1,1262.1 1538,1259.5 C1542.4,1256.6 1543.8,1242.4 1546.5,1242.3 C1548.7,1242.2 1550.4,1250.7 1553,1253.5 C1555.1,1255.7 1557,1256.9 1560,1258.3 C1564.5,1260.4 1572,1263.2 1577.8,1263.4 C1583.3,1263.6 1588.3,1261.6 1594.1,1260.1 C1601.1,1258.3 1610.1,1252 1616.9,1252.8 C1623,1253.5 1627.3,1262 1633.2,1262.6 C1639.6,1263.3 1649.5,1258.2 1654.3,1255.2 C1657.4,1253.3 1658.2,1250.7 1660.9,1248.7 C1664.1,1246.3 1668.6,1242 1672.3,1242.2 C1676.2,1242.4 1679.3,1249.2 1683.7,1250.3 C1688.5,1251.4 1694.6,1249.8 1700,1247.9 C1706,1245.8 1713.7,1236.2 1717.9,1237.3 C1721.2,1238.2 1721.8,1245 1724.4,1248.7 C1727.2,1252.6 1731.4,1260.4 1734.2,1260.1 C1736.8,1259.9 1738.9,1252.5 1740.7,1248.7 C1742.4,1245.2 1743.1,1238.2 1744.8,1238.1 C1746.8,1237.9 1749,1248.7 1752.1,1250.3 C1754.4,1251.5 1757.5,1248.7 1760.2,1249.5 C1763.5,1250.4 1767,1254.2 1770,1256.9 C1773,1259.6 1775,1263.9 1778.2,1265.8 C1781.1,1267.5 1784.7,1267.5 1787.9,1268.3" fill="none" stroke="#3cd23c" stroke-width="3.9" stroke-linejoin="round" stroke-linecap="round"/>
<line x1="262" y1="371.3" x2="296.2" y2="405.5" stroke="#000" stroke-width="1.3"/>
<line x1="375.3" y1="367" x2="335.4" y2="389.9" stroke="#000" stroke-width="1.3"/>
<line x1="1203.4" y1="522.8" x2="1215.6" y2="565.6" stroke="#000" stroke-width="1.3"/>
<line x1="1463" y1="110.6" x2="1492.7" y2="81.8" stroke="#000" stroke-width="1.3"/>
<line x1="1572.2" y1="280.9" x2="1548.6" y2="315" stroke="#000" stroke-width="1.3"/>
<line x1="1694.3" y1="218.9" x2="1713.4" y2="272.3" stroke="#000" stroke-width="1.3"/>
<line x1="1779" y1="256.3" x2="1745.4" y2="295.2" stroke="#000" stroke-width="1.3"/>
<line x1="402.4" y1="575.7" x2="453.3" y2="604.3" stroke="#000" stroke-width="1.3"/>
<line x1="695.8" y1="674" x2="659.1" y2="717.8" stroke="#000" stroke-width="1.3"/>
<line x1="1174.6" y1="740.7" x2="1221.4" y2="775.4" stroke="#000" stroke-width="1.3"/>
<line x1="1284.5" y1="660" x2="1338.6" y2="700.3" stroke="#000" stroke-width="1.3"/>
<line x1="1424.5" y1="590.4" x2="1477.6" y2="560.1" stroke="#000" stroke-width="1.3"/>
<line x1="560.2" y1="870.4" x2="629" y2="896.4" stroke="#000" stroke-width="1.3"/>
<line x1="720.6" y1="885.5" x2="673.3" y2="925.4" stroke="#000" stroke-width="1.3"/>
<line x1="1192.4" y1="856.4" x2="1250.3" y2="825.4" stroke="#000" stroke-width="1.3"/>
<line x1="1382.2" y1="796.9" x2="1337.4" y2="845" stroke="#000" stroke-width="1.3"/>
<line x1="1467.7" y1="881.3" x2="1428.1" y2="917.7" stroke="#000" stroke-width="1.3"/>
<line x1="1707.2" y1="895.2" x2="1670.9" y2="935.9" stroke="#000" stroke-width="1.3"/>
<line x1="259.8" y1="1085.5" x2="298.5" y2="1112" stroke="#000" stroke-width="1.3"/>
<line x1="349.4" y1="1070.3" x2="333.1" y2="1109" stroke="#000" stroke-width="1.3"/>
<line x1="606.2" y1="1030.7" x2="628.6" y2="1057.2" stroke="#000" stroke-width="1.3"/>
<line x1="705" y1="1072.5" x2="668.3" y2="1089.8" stroke="#000" stroke-width="1.3"/>
<line x1="1211.2" y1="1016" x2="1256" y2="986.5" stroke="#000" stroke-width="1.3"/>
<line x1="1354.9" y1="997.7" x2="1333.1" y2="1024.9" stroke="#000" stroke-width="1.3"/>
<line x1="1407.2" y1="1058.6" x2="1431.1" y2="1083.8" stroke="#000" stroke-width="1.3"/>
<line x1="1522.9" y1="1031.2" x2="1492" y2="1072.5" stroke="#000" stroke-width="1.3"/>
<line x1="259.8" y1="1213.8" x2="301.5" y2="1266.7" stroke="#000" stroke-width="1.3"/>
<line x1="358.6" y1="1217.9" x2="335.2" y2="1264.7" stroke="#000" stroke-width="1.3"/>
<line x1="651" y1="1158.9" x2="628.6" y2="1210.8" stroke="#000" stroke-width="1.3"/>
<line x1="721.3" y1="1221" x2="670.3" y2="1238.3" stroke="#000" stroke-width="1.3"/>
<line x1="1189.9" y1="1172.5" x2="1256.1" y2="1145.5" stroke="#000" stroke-width="1.3"/>
<line x1="1375.5" y1="1149.7" x2="1335.7" y2="1178.8" stroke="#000" stroke-width="1.3"/>
<line x1="1396" y1="1204" x2="1429.1" y2="1232.5" stroke="#000" stroke-width="1.3"/>
<line x1="1522.4" y1="1161.5" x2="1492.2" y2="1213.7" stroke="#000" stroke-width="1.3"/>
<g stroke="#000" stroke-width="4.3" fill="none">
<line x1="159.4" y1="54.3" x2="1889.5" y2="54.3"/>
<line x1="163.6" y1="52.3" x2="163.6" y2="1381.5"/>
<line x1="1885.3" y1="52.3" x2="1885.3" y2="1364"/>
<line x1="161.6" y1="1355.6" x2="1889.3" y2="1355.6"/>
<line x1="1729.6" y1="1355.6" x2="1729.6" y2="1381.5"/>
<line x1="1505.8" y1="1355.6" x2="1505.8" y2="1381.5"/>
<line x1="1282" y1="1355.6" x2="1282" y2="1381.5"/>
<line x1="1058.3" y1="1355.6" x2="1058.3" y2="1381.5"/>
<line x1="834.5" y1="1355.6" x2="834.5" y2="1381.5"/>
<line x1="610.8" y1="1355.6" x2="610.8" y2="1381.5"/>
<line x1="387" y1="1355.6" x2="387" y2="1381.5"/>
<line x1="1841.4" y1="1355.6" x2="1841.4" y2="1368.3"/>
<line x1="1617.7" y1="1355.6" x2="1617.7" y2="1368.3"/>
<line x1="1393.9" y1="1355.6" x2="1393.9" y2="1368.3"/>
<line x1="1170.2" y1="1355.6" x2="1170.2" y2="1368.3"/>
<line x1="946.4" y1="1355.6" x2="946.4" y2="1368.3"/>
<line x1="722.7" y1="1355.6" x2="722.7" y2="1368.3"/>
<line x1="498.9" y1="1355.6" x2="498.9" y2="1368.3"/>
<line x1="275.1" y1="1355.6" x2="275.1" y2="1368.3"/>
</g>
<g font-family="'Liberation Sans', Arial, sans-serif" fill="#000">
<text x="1680.2" y="1446.2" font-size="61.3" textLength="98.7" lengthAdjust="spacingAndGlyphs">500</text>
<text x="1438.5" y="1446.2" font-size="61.3" textLength="132.4" lengthAdjust="spacingAndGlyphs">1000</text>
<text x="1214.8" y="1446.2" font-size="61.3" textLength="132.4" lengthAdjust="spacingAndGlyphs">1500</text>
<text x="992.6" y="1446.2" font-size="61.3" textLength="130.8" lengthAdjust="spacingAndGlyphs">2000</text>
<text x="768.8" y="1446.2" font-size="61.3" textLength="130.8" lengthAdjust="spacingAndGlyphs">2500</text>
<text x="545.8" y="1446.2" font-size="61.3" textLength="130" lengthAdjust="spacingAndGlyphs">3000</text>
<text x="322" y="1446.2" font-size="61.3" textLength="130" lengthAdjust="spacingAndGlyphs">3500</text>
<text x="99.2" y="1446.2" font-size="61.3" textLength="129.1" lengthAdjust="spacingAndGlyphs">4000</text>
<text x="183.5" y="363.5" font-size="44" textLength="104.4" lengthAdjust="spacingAndGlyphs">3698</text>
<text x="335" y="361.7" font-size="44" textLength="103.6" lengthAdjust="spacingAndGlyphs">3623</text>
<text x="1149.5" y="517.8" font-size="44" textLength="101.5" lengthAdjust="spacingAndGlyphs">1630</text>
<text x="1370.5" y="140.8" font-size="44" textLength="102.7" lengthAdjust="spacingAndGlyphs">1037</text>
<text x="1549.4" y="272.7" font-size="44" textLength="75.6" lengthAdjust="spacingAndGlyphs">910</text>
<text x="1655.7" y="218.5" font-size="44" textLength="77.5" lengthAdjust="spacingAndGlyphs">537</text>
<text x="1735.9" y="250.6" font-size="44" textLength="77.5" lengthAdjust="spacingAndGlyphs">467</text>
<text x="300.9" y="586.5" font-size="44" textLength="100.4" lengthAdjust="spacingAndGlyphs">3348</text>
<text x="690.4" y="671.5" font-size="44" textLength="101.9" lengthAdjust="spacingAndGlyphs">2900</text>
<text x="1124.3" y="743.4" font-size="44" textLength="99.2" lengthAdjust="spacingAndGlyphs">1639</text>
<text x="1199.1" y="659.1" font-size="44" textLength="100.7" lengthAdjust="spacingAndGlyphs">1373</text>
<text x="1325.2" y="612.7" font-size="44" textLength="99.8" lengthAdjust="spacingAndGlyphs">1059</text>
<text x="464.7" y="867" font-size="44" textLength="105" lengthAdjust="spacingAndGlyphs">2960</text>
<text x="679.1" y="879.8" font-size="44" textLength="102.6" lengthAdjust="spacingAndGlyphs">2873</text>
<text x="1091.2" y="880.4" font-size="44" textLength="102.7" lengthAdjust="spacingAndGlyphs">1572</text>
<text x="1303.9" y="802.9" font-size="44" textLength="99.3" lengthAdjust="spacingAndGlyphs">1377</text>
<text x="1428.9" y="873.4" font-size="44" textLength="102.9" lengthAdjust="spacingAndGlyphs">1176</text>
<text x="1667.4" y="894.8" font-size="44" textLength="77.4" lengthAdjust="spacingAndGlyphs">632</text>
<text x="198.9" y="1077" font-size="44" textLength="103.4" lengthAdjust="spacingAndGlyphs">3700</text>
<text x="316" y="1055.6" font-size="44" textLength="102.9" lengthAdjust="spacingAndGlyphs">3622</text>
<text x="556.1" y="1025.2" font-size="44" textLength="99.1" lengthAdjust="spacingAndGlyphs">2961</text>
<text x="688.4" y="1063.9" font-size="44" textLength="100.4" lengthAdjust="spacingAndGlyphs">2874</text>
<text x="1107.9" y="1033.9" font-size="44" textLength="103.6" lengthAdjust="spacingAndGlyphs">1559</text>
<text x="1340.2" y="996.7" font-size="44" textLength="101.2" lengthAdjust="spacingAndGlyphs">1390</text>
<text x="1349.5" y="1053.6" font-size="44" textLength="101.9" lengthAdjust="spacingAndGlyphs">1170</text>
<text x="1506.5" y="1025.4" font-size="44" textLength="97.9" lengthAdjust="spacingAndGlyphs">1031</text>
<text x="170.5" y="1213.4" font-size="44" textLength="101.5" lengthAdjust="spacingAndGlyphs">3696</text>
<text x="308" y="1218.5" font-size="44" textLength="100.4" lengthAdjust="spacingAndGlyphs">3626</text>
<text x="567.2" y="1151.4" font-size="44" textLength="101.1" lengthAdjust="spacingAndGlyphs">2956</text>
<text x="692.5" y="1220.6" font-size="44" textLength="101.9" lengthAdjust="spacingAndGlyphs">2875</text>
<text x="1097.9" y="1207.2" font-size="44" textLength="100.1" lengthAdjust="spacingAndGlyphs">1563</text>
<text x="1321.3" y="1151.3" font-size="44" textLength="94" lengthAdjust="spacingAndGlyphs">1381</text>
<text x="1350.8" y="1216.6" font-size="44" textLength="103.2" lengthAdjust="spacingAndGlyphs">1172</text>
<text x="1489.5" y="1162" font-size="44" textLength="101.2" lengthAdjust="spacingAndGlyphs">1032</text>
<text x="1812.7" y="599.8" font-size="60">1</text>
<text x="1818.6" y="812.9" font-size="60" textLength="34.2" lengthAdjust="spacingAndGlyphs">2</text>
<text x="1820.5" y="978.6" font-size="60" textLength="33.3" lengthAdjust="spacingAndGlyphs">3</text>
<text x="1821.5" y="1116.6" font-size="60" textLength="32.7" lengthAdjust="spacingAndGlyphs">4</text>
<text x="1820.4" y="1274.8" font-size="60" textLength="33.3" lengthAdjust="spacingAndGlyphs">5</text>
<text x="590.3" y="1555" font-size="92">Wavenumber (cm</text>
<text x="1312.6" y="1530.2" font-size="76">-</text>
<text x="1340" y="1528.7" font-size="76">1</text>
<text x="1384.5" y="1555" font-size="92">)</text>
<text transform="translate(120.2,898.5) rotate(-90)" font-size="92.5">Intensity (a.u.)</text>
</g>
<rect x="0" y="1565.5" width="1964" height="38.5" fill="#fff"/>
</svg></body></html>
